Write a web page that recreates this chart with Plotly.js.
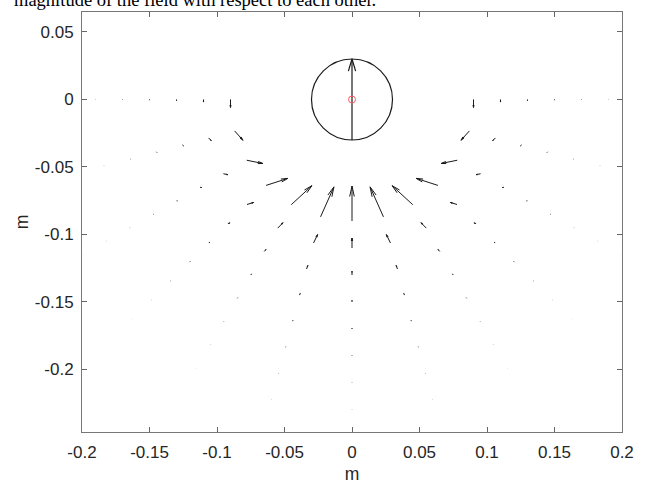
<!DOCTYPE html>
<html>
<head>
<meta charset="utf-8">
<script src="https://cdn.plot.ly/plotly-3.0.1.min.js"></script>
<style>
  html, body { margin: 0; padding: 0; background: #fff; }
  #chart { width: 646px; height: 484px; }
</style>
</head>
<body>
<div id="chart"></div>
<script>
// ---- grid of field sample points (polar: radius in m, angle in degrees) ----
const radii = [0.09, 0.11, 0.13, 0.15, 0.17, 0.19, 0.21, 0.23];
const anglesDeg = [180, 195, 210, 225, 240, 255, 270, 285, 300, 315, 330, 345, 360];

// ---- drawn arrow components (m), one row per radius, one column per angle ----
const uRows = [
  [0, 0.0062, 0.0119, 0.0161, 0.0153, 0.0099, 0, -0.0099, -0.0153, -0.0161, -0.0119, -0.0062, 0],
  [0, 0.0020, 0.0033, 0.0049, 0.0039, 0.0030, 0, -0.0030, -0.0039, -0.0049, -0.0033, -0.0020, 0],
  [0, 0.0007, 0.0011, 0.0016, 0.0013, 0.0009, 0, -0.0009, -0.0013, -0.0016, -0.0011, -0.0007, 0],
  [0, 0.00037, 0.00052, 0.00074, 0.00063, 0.00041, 0, -0.00041, -0.00063, -0.00074, -0.00052, -0.00037, 0],
  [0, 0.00019, 0.00026, 0.00037, 0.00031, 0.00021, 0, -0.00021, -0.00031, -0.00037, -0.00026, -0.00019, 0],
  [0, 0.00010, 0.00013, 0.00019, 0.00016, 0.00010, 0, -0.00010, -0.00016, -0.00019, -0.00013, -0.00010, 0],
  [0, 0.00005, 0.00007, 0.00010, 0.00008, 0.00005, 0, -0.00005, -0.00008, -0.00010, -0.00007, -0.00005, 0],
  [0, 0.00003, 0.00004, 0.00005, 0.00004, 0.00003, 0, -0.00003, -0.00004, -0.00005, -0.00004, -0.00003, 0]
];
const vRows = [
  [-0.0059, -0.0069, -0.0024, 0.0052, 0.0141, 0.0222, 0.0259, 0.0222, 0.0141, 0.0052, -0.0024, -0.0069, -0.0059],
  [-0.0019, -0.0020, -0.0007, 0.0015, 0.0040, 0.0062, 0.0074, 0.0062, 0.0040, 0.0015, -0.0007, -0.0020, -0.0019],
  [-0.0009, -0.0007, -0.0002, 0.0005, 0.0015, 0.0026, 0.0028, 0.0026, 0.0015, 0.0005, -0.0002, -0.0007, -0.0009],
  [-0.00044, -0.00037, -0.00011, 0.00022, 0.00067, 0.00111, 0.00126, 0.00111, 0.00067, 0.00022, -0.00011, -0.00037, -0.00044],
  [-0.00022, -0.00019, -0.00006, 0.00011, 0.00033, 0.00056, 0.00063, 0.00056, 0.00033, 0.00011, -0.00006, -0.00019, -0.00022],
  [-0.00011, -0.00010, -0.00003, 0.00006, 0.00017, 0.00028, 0.00032, 0.00028, 0.00017, 0.00006, -0.00003, -0.00010, -0.00011],
  [-0.00006, -0.00005, -0.00002, 0.00003, 0.00009, 0.00015, 0.00017, 0.00015, 0.00009, 0.00003, -0.00002, -0.00005, -0.00006],
  [-0.00003, -0.00003, -0.00001, 0.00002, 0.00005, 0.00008, 0.00009, 0.00008, 0.00005, 0.00002, -0.00001, -0.00003, -0.00003]
];

// ---- magnet ----
const magnetRadius = 0.03;
const magnetTail = [0, -0.03];
const magnetVector = [0, 0.06];

// ---- axes ----
const xTickVals = [-0.2, -0.15, -0.1, -0.05, 0, 0.05, 0.1, 0.15, 0.2];
const xTickText = ['-0.2', '-0.15', '-0.1', '-0.05', '0', '0.05', '0.1', '0.15', '0.2'];
const yTickVals = [-0.2, -0.15, -0.1, -0.05, 0, 0.05];
const yTickText = ['-0.2', '-0.15', '-0.1', '-0.05', '0', '0.05'];
const xRange = [-0.2, 0.2];
const yRange = [-0.2463, 0.0648];
const captionText = 'magnitude of the field with respect to each other.';

// ---- build quiver geometry through data coordinates ----
function addArrow(xs, ys, x0, y0, u, v, alpha, beta) {
  const x1 = x0 + u, y1 = y0 + v;
  xs.push(x0, x1, null, x1 - alpha * (u + beta * v), x1, x1 - alpha * (u - beta * v), null);
  ys.push(y0, y1, null, y1 - alpha * (v - beta * u), y1, y1 - alpha * (v + beta * u), null);
}

const qx = [], qy = [];
radii.forEach((r, i) => {
  anglesDeg.forEach((a, j) => {
    const t = a * Math.PI / 180;
    addArrow(qx, qy, r * Math.cos(t), r * Math.sin(t), uRows[i][j], vRows[i][j], 0.3, 0.22);
  });
});

const mx = [], my = [];
addArrow(mx, my, magnetTail[0], magnetTail[1], magnetVector[0], magnetVector[1], 0.15, 0.3);

const traces = [
  { type: 'scatter', mode: 'lines', x: qx, y: qy, hoverinfo: 'skip',
    line: { color: '#1a1a1a', width: 1, simplify: false }, connectgaps: false, showlegend: false },
  { type: 'scatter', mode: 'lines', x: mx, y: my, hoverinfo: 'skip',
    line: { color: '#1a1a1a', width: 1.2, simplify: false }, connectgaps: false, showlegend: false },
  { type: 'scatter', mode: 'markers', x: [0], y: [0], hoverinfo: 'skip',
    marker: { symbol: 'circle-open', size: 7, color: '#ff5a5a', line: { width: 1, color: '#ff5a5a' } }, showlegend: false }
];

const axisFont = { family: 'Liberation Sans, Arial, sans-serif', size: 17, color: '#262626' };
const titleFont = { family: 'Liberation Sans, Arial, sans-serif', size: 17.5, color: '#262626' };
const layout = {
  width: 646, height: 484,
  margin: { l: 82, r: 24, t: 12, b: 52 },
  paper_bgcolor: '#ffffff', plot_bgcolor: '#ffffff',
  showlegend: false,
  xaxis: {
    range: xRange, tickvals: xTickVals, ticktext: xTickText,
    ticks: 'inside', ticklen: 5, tickwidth: 1, tickcolor: '#666',
    showline: true, linecolor: '#777', linewidth: 1, mirror: 'ticks',
    showgrid: false, zeroline: false, tickfont: axisFont, ticklabelstandoff: 5,
    title: { text: 'm', font: titleFont, standoff: 7 }
  },
  yaxis: {
    range: yRange, tickvals: yTickVals, ticktext: yTickText,
    ticks: 'inside', ticklen: 5, tickwidth: 1, tickcolor: '#666',
    showline: true, linecolor: '#777', linewidth: 1, mirror: 'ticks',
    showgrid: false, zeroline: false, tickfont: axisFont, ticklabelstandoff: 4,
    title: { text: 'm', font: titleFont, standoff: 1 }
  },
  shapes: [
    { type: 'circle', xref: 'x', yref: 'y',
      x0: -magnetRadius, x1: magnetRadius, y0: -magnetRadius, y1: magnetRadius,
      line: { color: '#1a1a1a', width: 1.2 } }
  ],
  annotations: [
    { text: captionText, xref: 'paper', yref: 'paper', x: -0.13, y: 1.029,
      xanchor: 'left', yanchor: 'middle', showarrow: false,
      font: { family: 'Liberation Serif, Times New Roman, serif', size: 18.5, color: '#000' } }
  ]
};

Plotly.newPlot('chart', traces, layout, { displayModeBar: false, staticPlot: true });
</script>
</body>
</html>
